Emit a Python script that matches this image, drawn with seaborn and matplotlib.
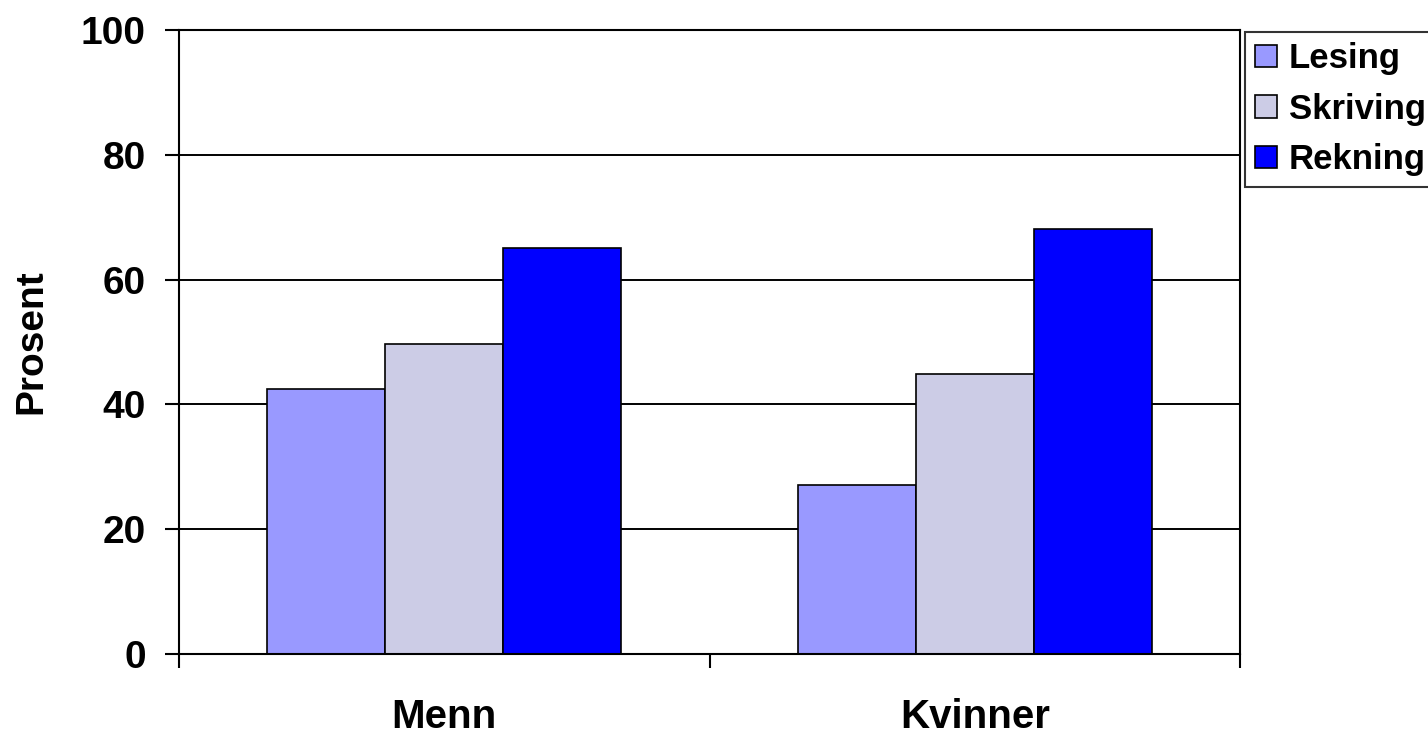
import matplotlib
matplotlib.use("Agg")
import matplotlib.pyplot as plt
import seaborn as sns
import pandas as pd
from matplotlib.patches import Patch

categories = ["Menn", "Kvinner"]
series = ["Lesing", "Skriving", "Rekning"]
lesing = [42.5, 27.1]
skriving = [49.7, 44.8]
rekning = [65.1, 68.1]
colors = ["#9999FF", "#CCCCE6", "#0000FF"]
yticks = [0, 20, 40, 60, 80, 100]

rows = []
for name, vals in zip(series, [lesing, skriving, rekning]):
    for c, v in zip(categories, vals):
        rows.append({"Kjønn": c, "Ferdighet": name, "Prosent": v})
df = pd.DataFrame(rows)

sns.set_style("white")
plt.rcParams["font.family"] = ["Liberation Sans", "DejaVu Sans"]
plt.rcParams["font.weight"] = "bold"
plt.rcParams["text.color"] = "black"
plt.rcParams["axes.labelcolor"] = "black"
plt.rcParams["xtick.color"] = "black"
plt.rcParams["ytick.color"] = "black"

fig = plt.figure(figsize=(14.28, 7.34), dpi=100)
ax = fig.add_axes([179/1428, 1-654/734, (1240-179)/1428, (654-30)/734])

sns.barplot(data=df, x="Kjønn", y="Prosent", hue="Ferdighet", order=categories,
            hue_order=series, palette=colors, width=0.667, edgecolor="black",
            linewidth=1.2, ax=ax, legend=False, saturation=1)

ax.set_xlim(-0.5, 1.5)
ax.set_ylim(0, 100)
ax.set_yticks(yticks)
ax.set_yticklabels([str(t) for t in yticks], fontsize=28, fontweight="bold")
ax.yaxis.grid(True, color="black", linewidth=1.4)
ax.set_axisbelow(True)
for s in ax.spines.values():
    s.set_visible(True)
    s.set_color("black")
    s.set_linewidth(1.5)

ax.set_xticks([0, 1])
ax.set_xticklabels(categories, fontsize=29, fontweight="bold")
ax.tick_params(axis="x", which="major", bottom=True, length=0, pad=32)
ax.set_xticks([-0.5, 0.5, 1.5], minor=True)
ax.tick_params(axis="x", which="minor", bottom=True, length=10, width=1.5,
               direction="out", color="black")
ax.tick_params(axis="y", left=True, length=10, width=1.5, direction="out",
               color="black", pad=14)
ax.set_xlabel("")
ax.set_ylabel("Prosent", fontsize=28, fontweight="bold", va="center")
ax.yaxis.set_label_coords((31-179)/1061, 0.5)

handles = [Patch(facecolor=c, edgecolor="black", linewidth=1.2, label=s)
           for s, c in zip(series, colors)]
leg = fig.legend(handles=handles, loc="upper left", bbox_to_anchor=(1245/1428, 1-32/734),
                 frameon=True, fancybox=False, edgecolor="black", fontsize=25,
                 handlelength=0.62, handleheight=0.62, handletextpad=0.34,
                 labelspacing=0.5, borderpad=0.3, borderaxespad=0)
leg.get_frame().set_linewidth(1.5)
for t in leg.get_texts():
    t.set_fontweight("bold")
    t.set_color("black")

fig.savefig("out.png", dpi=100)
